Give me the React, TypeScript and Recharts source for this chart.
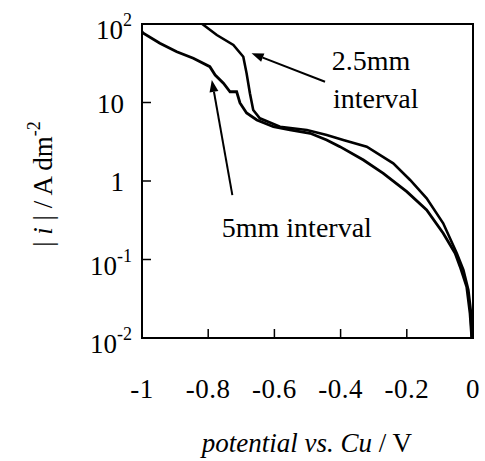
import {
  Line,
  LineChart,
  ReferenceArea,
  ReferenceDot,
  ReferenceLine,
  XAxis,
  YAxis,
} from "recharts";

// potential vs. Cu (V) and |i| (A dm^-2)
const potential5mm = [
  -1.0, -0.996, -0.946, -0.895, -0.845, -0.795, -0.779, -0.754, -0.734, -0.714,
  -0.704, -0.684, -0.653, -0.603, -0.553, -0.492, -0.442, -0.402, -0.331, -0.271,
  -0.2, -0.14, -0.09, -0.054, -0.039, -0.019, -0.009, -0.004, 0,
];
const current5mm = [
  80, 76.2, 56.8, 44.4, 36.6, 28.6, 22.4, 17.6, 13.7, 13.7, 9.86, 7.35, 5.98,
  4.92, 4.47, 4.05, 3.33, 2.74, 1.85, 1.25, 0.731, 0.428, 0.216, 0.12, 0.081,
  0.045, 0.0206, 0.0104, 0.01,
];

const potential25mm = [
  -0.818, -0.774, -0.724, -0.694, -0.684, -0.674, -0.664, -0.644, -0.583, -0.502,
  -0.442, -0.392, -0.321, -0.241, -0.19, -0.14, -0.09, -0.049, -0.029, -0.014,
  -0.007, -0.004, 0,
];
const current25mm = [
  100, 72.4, 54, 38.3, 23.5, 13.1, 8.02, 6.29, 4.92, 4.47, 3.85, 3.33, 2.74,
  1.68, 1.03, 0.602, 0.289, 0.12, 0.0735, 0.0409, 0.0228, 0.0104, 0.01,
];

const xTicks = [-1, -0.8, -0.6, -0.4, -0.2, 0];
const xTickLabels = ["-1", "-0.8", "-0.6", "-0.4", "-0.2", "0"];
const yTicks = [0.01, 0.1, 1, 10, 100];
const yTickBase = ["10", "10", "1", "10", "10"];
const yTickExp = ["-2", "-1", "", "", "2"];

const data5mm = potential5mm.map((x, i) => ({ x, y: current5mm[i] }));
const data25mm = potential25mm.map((x, i) => ({ x, y: current25mm[i] }));

const FONT = "'Liberation Serif', 'Times New Roman', serif";
const txt = { fontFamily: FONT, fill: "#000" };

const XTick = (props: any) => {
  const { x, y, payload } = props;
  const idx = xTicks.indexOf(payload.value);
  return (
    <g>
      <line x1={x} y1={y} x2={x} y2={y - 9} stroke="#000" strokeWidth={1.5} />
      <text x={x} y={y + 60} textAnchor="middle" fontSize={27} letterSpacing={0.5} style={txt}>
        {xTickLabels[idx]}
      </text>
    </g>
  );
};

const YTick = (props: any) => {
  const { x, y, payload } = props;
  const idx = yTicks.indexOf(payload.value);
  const exp = yTickExp[idx];
  return (
    <g>
      <line x1={x} y1={y} x2={x + 9} y2={y} stroke="#000" strokeWidth={1.5} />
      {exp ? (
        <text x={x - 10} y={y + 15} textAnchor="end" fontSize={27} style={txt}>
          {yTickBase[idx]}
          <tspan dy={-13} fontSize={18}>{exp}</tspan>
        </text>
      ) : (
        <text x={x - 18} y={y + 10} textAnchor="end" fontSize={27} style={txt}>
          {yTickBase[idx]}
        </text>
      )}
    </g>
  );
};

const Arrow = (props: any) => {
  const { x1, y1, x2, y2 } = props;
  // x2,y2 is the arrow head
  const ang = Math.atan2(y2 - y1, x2 - x1);
  const len = 12;
  const w = 4.5;
  const bx = x2 - len * Math.cos(ang);
  const by = y2 - len * Math.sin(ang);
  const px = -Math.sin(ang) * w;
  const py = Math.cos(ang) * w;
  return (
    <g>
      <line x1={x1} y1={y1} x2={bx} y2={by} stroke="#000" strokeWidth={2} />
      <polygon points={`${x2},${y2} ${bx + px},${by + py} ${bx - px},${by - py}`} fill="#000" />
    </g>
  );
};

const note = (text: string) => (props: any) => (
  <text x={props.cx} y={props.cy} fontSize={28} style={txt}>
    {text}
  </text>
);

export default function App() {
  return (
    <div style={{ position: "absolute", left: 0, top: 0, background: "#fff" }}>
      <LineChart
        width={485}
        height={461}
        margin={{ top: 24, right: 12, bottom: 0, left: 0 }}
        style={{ fontFamily: FONT }}
      >
        <XAxis
          type="number"
          dataKey="x"
          domain={[-1, 0]}
          ticks={xTicks}
          interval={0}
          height={123}
          axisLine={false}
          tickLine={false}
          tickSize={0}
          tickMargin={0}
          tick={<XTick />}
          allowDataOverflow
        />
        <YAxis
          type="number"
          dataKey="y"
          scale="log"
          domain={[0.01, 100]}
          ticks={yTicks}
          interval={0}
          width={142}
          axisLine={false}
          tickLine={false}
          tickSize={0}
          tickMargin={0}
          tick={<YTick />}
          allowDataOverflow
        />
        <ReferenceArea
          x1={-1}
          x2={0}
          y1={0.01}
          y2={100}
          fill="none"
          stroke="#000"
          strokeWidth={2}
          fillOpacity={0}
          ifOverflow="visible"
        />
        <Line
          data={data5mm}
          dataKey="y"
          type="linear"
          stroke="#000"
          strokeWidth={2.8}
          dot={false}
          isAnimationActive={false}
        />
        <Line
          data={data25mm}
          dataKey="y"
          type="linear"
          stroke="#000"
          strokeWidth={2.6}
          dot={false}
          isAnimationActive={false}
        />
        <ReferenceLine
          segment={[{ x: -0.447, y: 18.4 }, { x: -0.669, y: 42.4 }]}
          shape={<Arrow />}
          ifOverflow="visible"
        />
        <ReferenceLine
          segment={[{ x: -0.727, y: 0.66 }, { x: -0.789, y: 19.4 }]}
          shape={<Arrow />}
          ifOverflow="visible"
        />
        <ReferenceDot x={-0.427} y={25.9} r={0} shape={note("2.5mm")} ifOverflow="visible" />
        <ReferenceDot x={-0.423} y={8.5} r={0} shape={note("interval")} ifOverflow="visible" />
        <ReferenceDot x={-0.759} y={0.195} r={0} shape={note("5mm interval")} ifOverflow="visible" />
      </LineChart>
      <svg
        width={485}
        height={461}
        style={{ position: "absolute", left: 0, top: 0, pointerEvents: "none" }}
      >
        <text transform="translate(52,184) rotate(-90)" textAnchor="middle" fontSize={27} style={txt}>
          {"| "}
          <tspan fontStyle="italic">i</tspan>
          {" | / A dm"}
          <tspan dy={-12} fontSize={18}>-2</tspan>
        </text>
        <text x={307} y={452} textAnchor="middle" fontSize={27} style={txt}>
          <tspan fontStyle="italic">potential vs. Cu</tspan>
          {"  / V"}
        </text>
      </svg>
    </div>
  );
}
